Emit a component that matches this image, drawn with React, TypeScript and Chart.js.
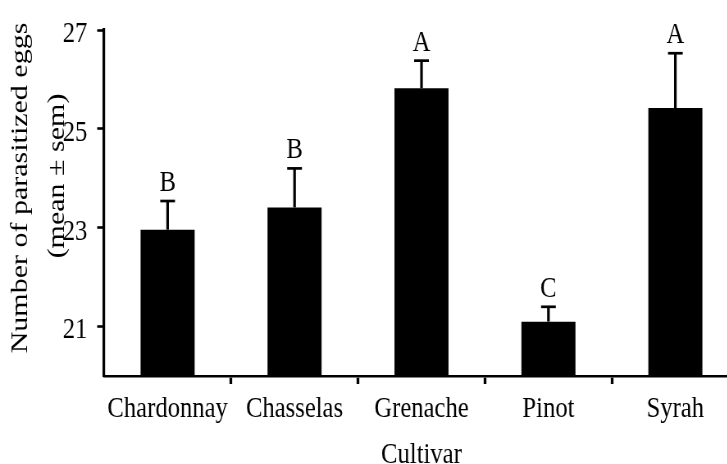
import { useEffect, useRef } from 'react';
import { Chart, registerables } from 'chart.js';

Chart.register(...registerables);

// ---- data ----
const categories = ['Chardonnay', 'Chasselas', 'Grenache', 'Pinot', 'Syrah'];
const means = [22.96, 23.41, 25.82, 21.1, 25.42];
const sems = [0.58, 0.79, 0.56, 0.3, 1.11];
const letters = ['B', 'B', 'A', 'C', 'A'];
const yTicks = [21, 23, 25, 27];
const yMin = 20;
const yMax = 27;
const yTitleLines = ['Number of parasitized eggs', '(mean ± sem)'];
const xTitle = 'Cultivar';

// ---- layout / style ----
const SX = 0.82; // horizontal compression of the reference picture
const W = 901;
const H = 474;
const FONT = "'Liberation Serif', 'Times New Roman', serif";

export default function App() {
  const ref = useRef<HTMLCanvasElement>(null);

  useEffect(() => {
    const canvas = ref.current;
    if (!canvas) return;

    const overlay = {
      id: 'overlay',
      afterDatasetsDraw(chart: any) {
        const ctx = chart.ctx as CanvasRenderingContext2D;
        const ys = chart.scales.y;
        const meta = chart.getDatasetMeta(0);
        ctx.save();
        ctx.fillStyle = '#000';
        meta.data.forEach((bar: any, i: number) => {
          const x = bar.x;
          const yb = bar.y;
          const yt = ys.getPixelForValue(means[i] + sems[i]);
          // stem
          ctx.fillRect(x - 1.6, yt, 3.2, yb - yt);
          // cap
          ctx.fillRect(x - 9, yt - 1.35, 18, 2.7);
          // letter
          ctx.font = `30px ${FONT}`;
          ctx.textAlign = 'center';
          ctx.textBaseline = 'alphabetic';
          ctx.fillText(letters[i], x, yt - 10);
        });
        // y-axis title (two rotated lines)
        const pos = [
          [25, 188],
          [70, 176],
        ];
        yTitleLines.forEach((t, k) => {
          ctx.save();
          ctx.translate(pos[k][0], pos[k][1]);
          ctx.rotate(-Math.PI / 2);
          ctx.font = `30px ${FONT}`;
          ctx.textAlign = 'center';
          ctx.textBaseline = 'middle';
          ctx.fillText(t, 0, 0);
          ctx.restore();
        });
        ctx.restore();
      },
    };

    const chart = new Chart(canvas, {
      type: 'bar',
      data: {
        labels: categories,
        datasets: [
          {
            data: means,
            backgroundColor: '#000',
            borderWidth: 0,
            barPercentage: 0.426,
            categoryPercentage: 1.0,
          },
        ],
      },
      options: {
        responsive: false,
        animation: false,
        devicePixelRatio: 1,
        layout: { padding: { top: 26, left: 0, right: 0, bottom: 0 } },
        plugins: {
          legend: { display: false },
          tooltip: { enabled: false },
        },
        scales: {
          x: {
            afterFit: (s: any) => {
              s.height = H - 376;
            },
            grid: {
              drawOnChartArea: false,
              drawTicks: true,
              tickLength: 8,
              tickWidth: 3.3,
              tickColor: (c: any) => (c.index === 0 ? 'rgba(0,0,0,0)' : '#000'),
            },
            border: { display: true, color: '#000', width: 2.6 },
            ticks: {
              color: '#000',
              padding: 7,
              maxRotation: 0,
              autoSkip: false,
              font: { family: FONT, size: 30, lineHeight: 1.2 },
            },
            title: {
              display: true,
              text: xTitle,
              color: '#000',
              font: { family: FONT, size: 30, lineHeight: 1.2 },
              padding: { top: 0, bottom: 1 },
            },
          },
          y: {
            min: yMin,
            max: yMax,
            afterFit: (s: any) => {
              s.width = 127;
            },
            afterBuildTicks: (s: any) => {
              s.ticks = yTicks.map((v) => ({ value: v }));
            },
            grid: {
              drawOnChartArea: false,
              drawTicks: true,
              tickLength: 8.5,
              tickWidth: 2.6,
              tickColor: '#000',
            },
            border: { display: true, color: '#000', width: 3.2 },
            ticks: {
              color: '#000',
              padding: 12,
              labelOffset: 4,
              font: { family: FONT, size: 30, lineHeight: 1.2 },
            },
          },
        },
      },
      plugins: [overlay],
    });

    return () => chart.destroy();
  }, []);

  return (
    <div
      style={{
        position: 'fixed',
        left: 0,
        top: 0,
        width: 727,
        height: 464,
        overflow: 'hidden',
        background: '#fff',
      }}
    >
      <canvas
        ref={ref}
        width={W}
        height={H}
        style={{
          display: 'block',
          width: W,
          height: H,
          transform: `scaleX(${SX})`,
          transformOrigin: '0 0',
        }}
      />
    </div>
  );
}
